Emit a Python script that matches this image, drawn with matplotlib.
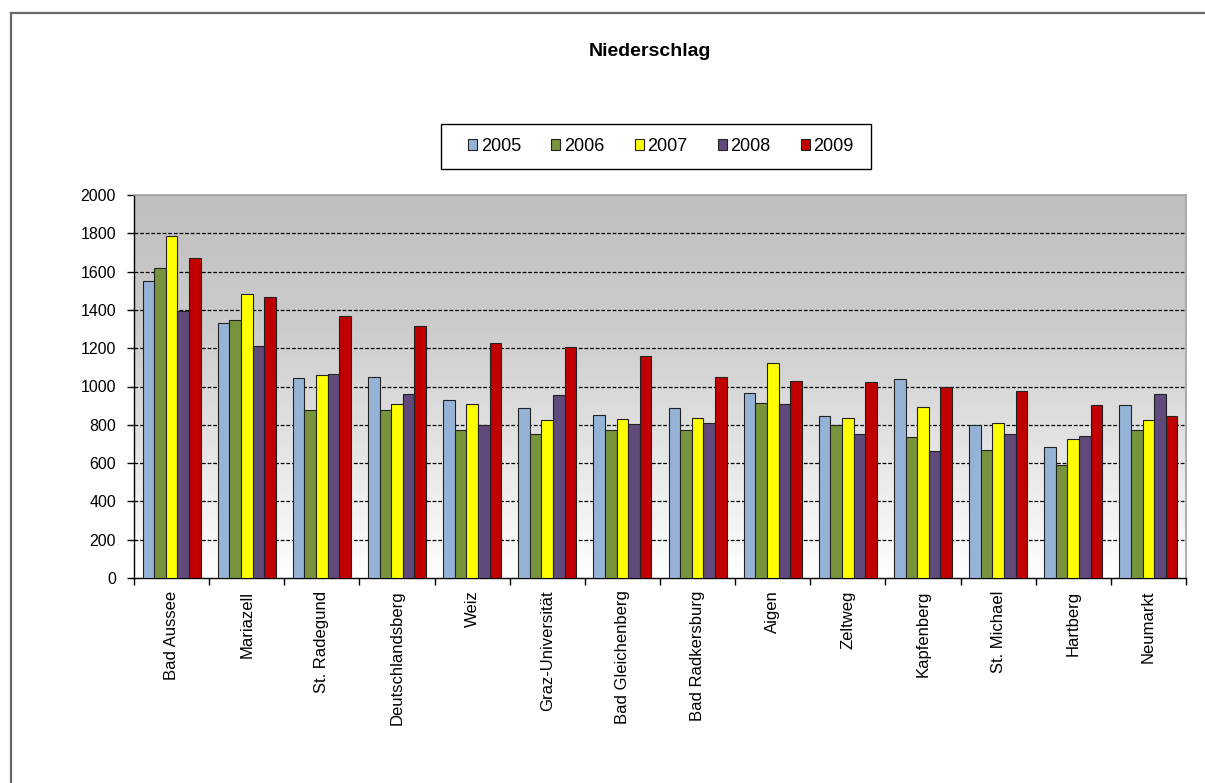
import numpy as np
import matplotlib.pyplot as plt
from matplotlib.patches import Patch, Rectangle
from matplotlib.lines import Line2D

plt.rcParams['font.family'] = ['Liberation Sans', 'DejaVu Sans']

stations = ["Bad Aussee", "Mariazell", "St. Radegund", "Deutschlandsberg", "Weiz",
            "Graz-Universität", "Bad Gleichenberg", "Bad Radkersburg", "Aigen",
            "Zeltweg", "Kapfenberg", "St. Michael", "Hartberg", "Neumarkt"]
years = ["2005", "2006", "2007", "2008", "2009"]

rain_2005 = [1550, 1330, 1045, 1050, 930, 888, 850, 888, 967, 845, 1038, 798, 683, 902]
rain_2006 = [1620, 1348, 878, 878, 774, 754, 774, 774, 915, 798, 735, 671, 592, 774]
rain_2007 = [1787, 1484, 1059, 908, 908, 826, 831, 838, 1122, 838, 895, 812, 728, 826]
rain_2008 = [1395, 1212, 1066, 962, 798, 955, 805, 812, 908, 754, 664, 754, 740, 962]
rain_2009 = [1671, 1465, 1368, 1317, 1225, 1206, 1160, 1050, 1031, 1026, 995, 974, 902, 845]

series = [rain_2005, rain_2006, rain_2007, rain_2008, rain_2009]
colors = ["#95B3D7", "#77933C", "#FFFF00", "#604A7B", "#C00000"]

W, H = 1205, 783
fig = plt.figure(figsize=(W / 100, H / 100), dpi=100)

# outer chart frame (top and left edges only)
fig.add_artist(Line2D([11 / W, 1.0], [1 - 13 / H, 1 - 13 / H], color="#6a6a6a", lw=1.6))
fig.add_artist(Line2D([11 / W, 11 / W], [1 - 13 / H, 0], color="#6a6a6a", lw=1.6))

ax = fig.add_axes([134 / W, (H - 578) / H, 1052 / W, 383 / H])

# grey-to-white background
grad = np.linspace(0, 1, 256).reshape(-1, 1)
bg = np.interp(grad, [0, 0.35, 1], [0.75, 0.80, 1.0])
ax.imshow(np.dstack([bg, bg, bg]), extent=[0, 1, 0, 1], transform=ax.transAxes,
          aspect="auto", zorder=0, origin="upper")

x = np.arange(len(stations))
width = 0.154
for i, (vals, c) in enumerate(zip(series, colors)):
    ax.bar(x + (i - 2) * width, vals, width, color=c, edgecolor="#222222",
           linewidth=0.8, zorder=3)

ax.set_xlim(-0.5, len(stations) - 0.5)
ax.set_ylim(0, 2000)
ax.set_yticks(range(0, 2001, 200))
for v in range(200, 2000, 200):
    ax.axhline(v, color="black", lw=0.9, ls=(0, (3, 1.5)), zorder=1)

ax.set_xticks(x)
ax.set_xticklabels(stations, rotation=90, fontsize=12, va="top")
ax.tick_params(axis="x", which="major", length=0, pad=9)
ax.set_xticks(np.arange(-0.5, len(stations), 1), minor=True)
ax.tick_params(axis="x", which="minor", length=5, width=1, direction="out")
ax.tick_params(axis="y", length=5, width=1, direction="out", labelsize=11.5, pad=8)

for side in ["left", "bottom"]:
    ax.spines[side].set_color("black")
    ax.spines[side].set_linewidth(1)
for side in ["top", "right"]:
    ax.spines[side].set_color("#a0a0a0")
    ax.spines[side].set_linewidth(1.2)

fig.text(650 / W, 1 - 52 / H, "Niederschlag", ha="center", va="center",
         fontsize=14, fontweight="bold")

# legend box
fig.add_artist(Rectangle((441 / W, 1 - 169 / H), 430 / W, 45 / H, transform=fig.transFigure,
                         facecolor="white", edgecolor="black", lw=1))
handles = [Patch(facecolor=c, edgecolor="#222222", lw=0.8) for c in colors]
fig.legend(handles, years, loc="center", bbox_to_anchor=(661 / W, 1 - 146.5 / H),
           ncol=5, frameon=False, fontsize=13, handlelength=0.5, handleheight=0.5,
           handletextpad=0.2, columnspacing=1.67, borderpad=0)

fig.savefig("out.png", dpi=100)
